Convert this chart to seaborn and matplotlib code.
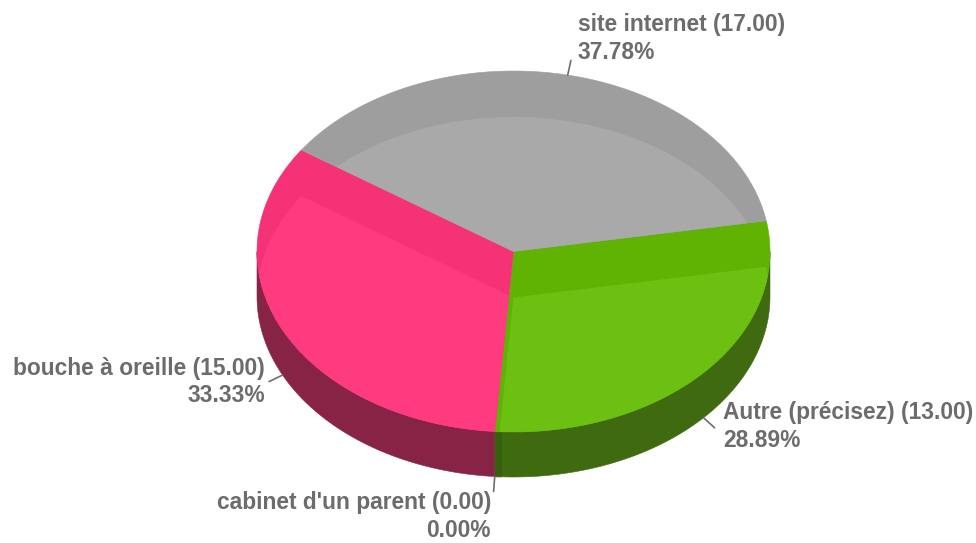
#!/usr/bin/env python3
# coding: utf-8

import matplotlib as mpl
import matplotlib.pyplot as plt
from matplotlib.patches import Polygon
import numpy as np
import seaborn as sns

mpl.use('Agg')

# clockwise from the start angle
labels = ['Autre (précisez)', "cabinet d'un parent", 'bouche à oreille', 'site internet']
values = [13.0, 0.0, 15.0, 17.0]

top_colors = ['#6bc012', '#6bc012', '#ff3b7f', '#a9a9a9']
rim_colors = ['#60b303', '#60b303', '#f53276', '#9e9e9e']
side_colors = ['#3f6a10', '#3f6a10', '#872446', '#6a6a6a']

# layout, in pixels of the 976x543 image
cx, cy = 513.5, 251.5
rx, ry = 256.5, 180.5
depth = 45
start_angle = 9.8
leader = 15
text_xy = [(723, 413, 'left'), (491, 503, 'right'), (265, 368.5, 'right'), (578, 25, 'left')]
line_gap = 27.5

sns.set_theme(style='white')
plt.rcParams['font.family'] = ['Liberation Sans', 'DejaVu Sans']

total = sum(values)
sweeps = [v / total * 360 for v in values]
ends = start_angle - np.cumsum(sweeps)
starts = ends + np.array(sweeps)


def arc(a1, a2, dy=0, n=120):
    t = np.radians(np.linspace(a1, a2, n))
    return np.column_stack([cx + rx * np.cos(t), cy + dy - ry * np.sin(t)])


def wedge(a1, a2, dy=0):
    return np.vstack([[cx, cy + dy], arc(a1, a2, dy)])


fig, ax = plt.subplots(figsize=(9.76, 5.43), dpi=100)
fig.subplots_adjust(0, 0, 1, 1)
ax.set_xlim(0, 976)
ax.set_ylim(543, 0)
ax.axis('off')

# side wall, only the front half of the rim shows
for a1, a2, c in zip(starts, ends, side_colors):
    lo, hi = max(a2, -180), min(a1, 0)
    if a1 > 180:
        lo, hi = max(a2 - 360, -180), min(a1 - 360, 0)
    if hi <= lo:
        continue
    wall = np.vstack([arc(hi, lo), arc(lo, hi, depth)])
    ax.add_patch(Polygon(wall, closed=True, fc=c, ec=c, lw=0.4, zorder=1))

# cut face of the empty slice
for a1, v in zip(starts, values):
    if v == 0:
        x, y = arc(a1, a1, n=1)[0]
        ax.plot([x + 3, x + 3], [y, y + depth], color='#2f5a0a', lw=5, alpha=0.55,
                solid_capstyle='butt', zorder=1.5)

# top face: darker rim, lighter copy shifted down and clipped to the slice
for a1, a2, v, top, rim in zip(starts, ends, values, top_colors, rim_colors):
    if v == 0:
        continue
    shape = Polygon(wedge(a1, a2), closed=True, fc=rim, ec=rim, lw=0.4, zorder=2)
    ax.add_patch(shape)
    light = Polygon(wedge(a1, a2, depth + 1), closed=True, fc=top, ec='none', zorder=3)
    ax.add_patch(light)
    light.set_clip_path(shape)

# labels and leader lines
for a1, a2, name, v, (tx, ty, ha) in zip(starts, ends, labels, values, text_xy):
    mid = np.radians((a1 + a2) / 2)
    x0 = cx + rx * np.cos(mid)
    y0 = cy - ry * np.sin(mid)
    if np.sin(mid) < 0:
        y0 += depth
    ax.plot([x0, x0 + leader * np.cos(mid)], [y0, y0 - leader * np.sin(mid)],
            color='#6e6e6e', lw=1.2, zorder=4)
    ax.text(tx, ty, f'{name} ({v:.2f})', ha=ha, va='center', fontsize=16.4,
            fontweight='bold', color='#6c6c6c')
    ax.text(tx, ty + line_gap, f'{v / total * 100:.2f}%', ha=ha, va='center', fontsize=16.4,
            fontweight='bold', color='#6c6c6c')

fig.savefig('out.png', dpi=100)
